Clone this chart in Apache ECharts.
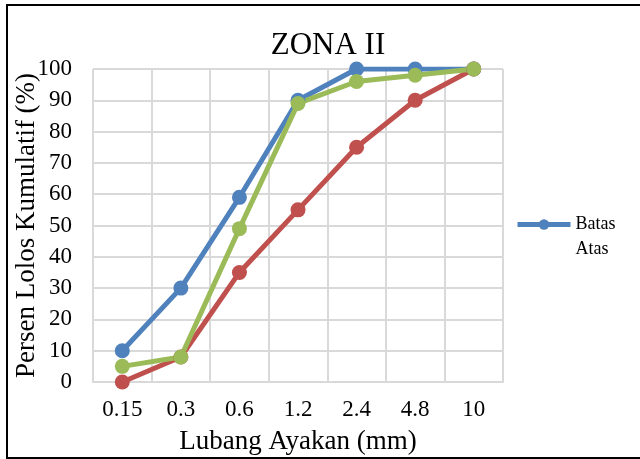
<!DOCTYPE html>
<html>
<head>
<meta charset="utf-8">
<script src="https://cdn.jsdelivr.net/npm/echarts@6/dist/echarts.min.js"></script>
<style>
  html, body { margin: 0; padding: 0; background: #fff; }
  #main { width: 640px; height: 459px; }
</style>
</head>
<body>
<div id="main"></div>
<script>
// sieve sizes (mm)
var categories = ['0.15', '0.3', '0.6', '1.2', '2.4', '4.8', '10'];
var batasAtas = [10, 30, 59, 90, 100, 100, 100];
var batasBawah = [0, 8, 35, 55, 75, 90, 100];
var hasilUji = [5, 8, 49, 89, 96, 98, 100];

var font = '"Liberation Serif", "DejaVu Serif", serif';

function lineSeries(name, data, color) {
  return {
    name: name,
    type: 'line',
    data: data,
    symbol: 'circle',
    symbolSize: 15,
    lineStyle: { width: 5, color: color },
    itemStyle: { color: color }
  };
}

var chart = echarts.init(document.getElementById('main'));
chart.setOption({
  animation: false,
  title: {
    text: 'ZONA II',
    left: 323,
    textAlign: 'center',
    top: 25,
    textStyle: { fontFamily: font, fontSize: 31, fontWeight: 'normal', color: '#000' }
  },
  graphic: [{
    type: 'rect',
    shape: { x: 7, y: 5, width: 640, height: 453 },
    style: { fill: 'none', stroke: '#000', lineWidth: 2 }
  }],
  legend: {
    data: ['Batas Atas'],
    orient: 'vertical',
    left: 510,
    top: 182,
    itemWidth: 53,
    itemHeight: 13,
    itemGap: 4,
    lineStyle: { width: 5 },
    // leading blank line keeps the icon level with "Batas"
    formatter: function () { return '\nBatas\nAtas'; },
    textStyle: { fontFamily: font, fontSize: 18, color: '#000', lineHeight: 25 }
  },
  grid: { left: 93, top: 69, width: 410, height: 313, outerBoundsMode: 'none' },
  xAxis: {
    type: 'category',
    data: categories,
    boundaryGap: true,
    name: 'Lubang Ayakan (mm)',
    nameLocation: 'middle',
    nameGap: 46,
    nameTextStyle: { fontFamily: font, fontSize: 27, color: '#000' },
    axisLine: { lineStyle: { color: '#d9d9d9', width: 2 } },
    axisTick: { show: false },
    axisLabel: { fontFamily: font, fontSize: 23, color: '#000', margin: 16 },
    splitLine: { show: true, lineStyle: { color: '#d9d9d9', width: 2 } }
  },
  yAxis: {
    type: 'value',
    min: 0,
    max: 100,
    interval: 10,
    name: 'Persen Lolos Kumulatif (%)',
    nameLocation: 'middle',
    nameGap: 53,
    nameMoveOverlap: false,
    nameTextStyle: { fontFamily: font, fontSize: 27, color: '#000' },
    axisLine: { show: false },
    axisTick: { show: false },
    axisLabel: { fontFamily: font, fontSize: 23, color: '#000', margin: 21 },
    splitLine: { lineStyle: { color: '#d9d9d9', width: 2 } }
  },
  series: [
    lineSeries('Batas Atas', batasAtas, '#4F81BD'),
    lineSeries('Batas Bawah', batasBawah, '#C0504D'),
    lineSeries('Hasil Uji', hasilUji, '#9BBB59')
  ]
});
</script>
</body>
</html>
